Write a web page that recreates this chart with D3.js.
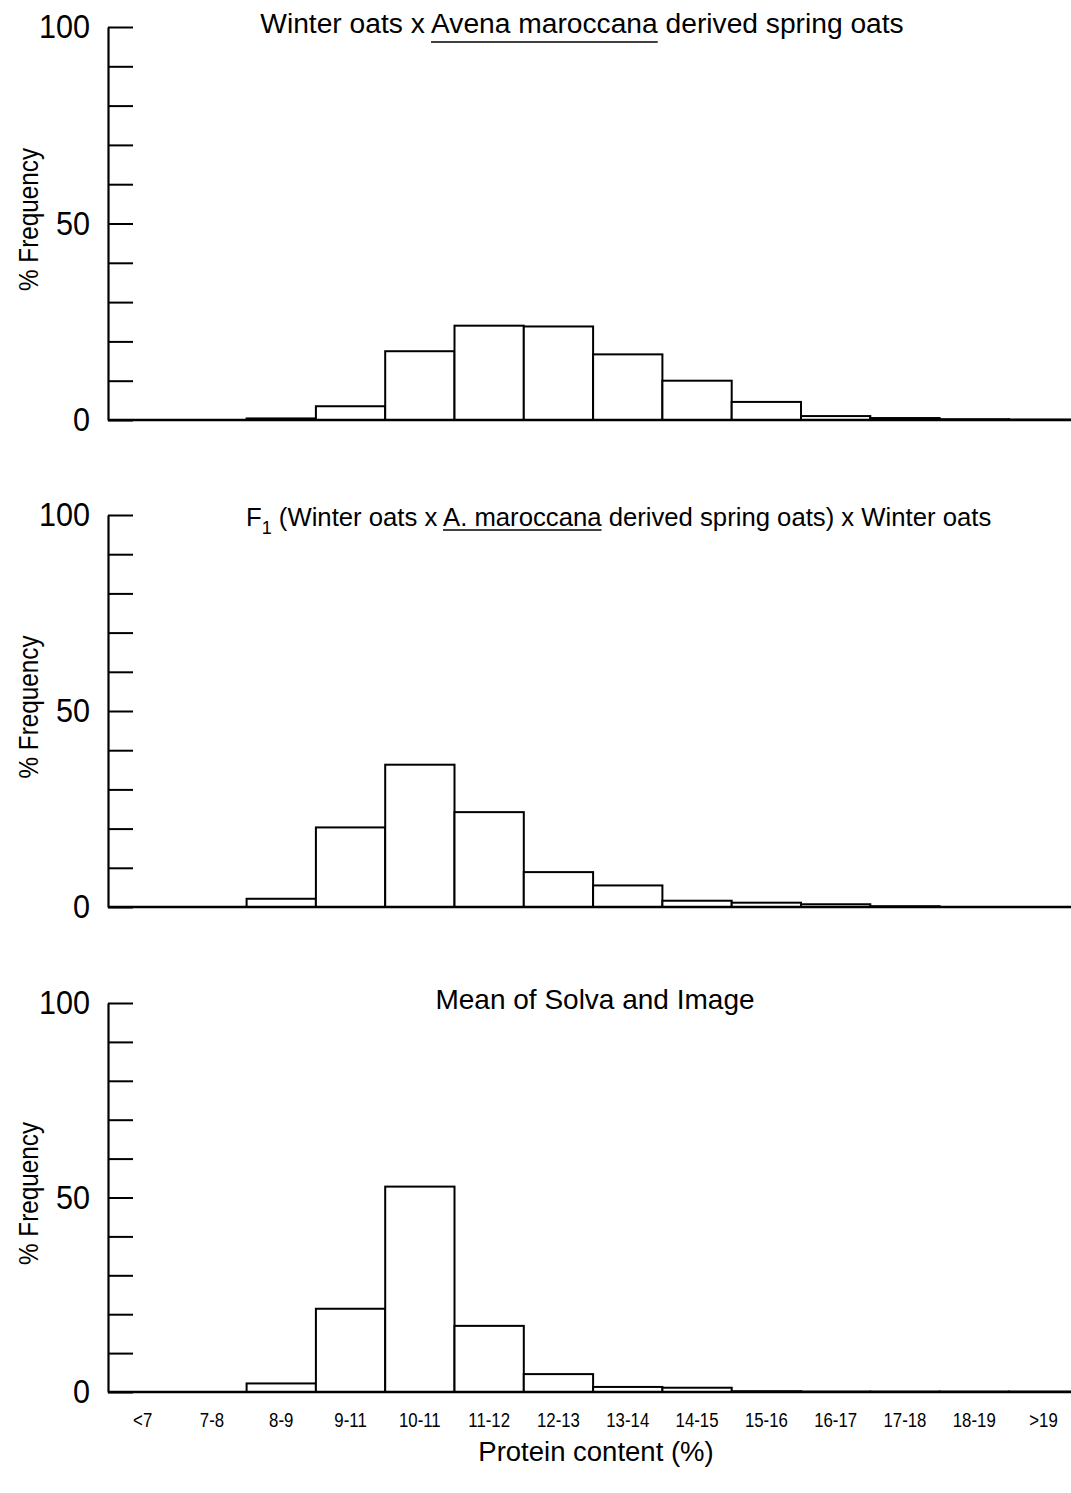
<!DOCTYPE html>
<html>
<head>
<meta charset="utf-8">
<script src="https://cdn.jsdelivr.net/npm/d3@7"></script>
<style>
  body { margin: 0; background: #fff; }
  svg { display: block; font-family: "Liberation Sans", Arial, Helvetica, sans-serif; }
</style>
</head>
<body>
<div id="chart"></div>
<script>
// protein content classes
const categories = ["<7", "7-8", "8-9", "9-11", "10-11", "11-12", "12-13", "13-14", "14-15", "15-16", "16-17", "17-18", "18-19", ">19"]

// % frequency per class
const winterXMaroccana = [0, 0, 0.4, 3.5, 17.5, 24, 23.8, 16.7, 10, 4.6, 1, 0.5, 0.2, 0.1]
const f1Backcross = [0, 0, 2.1, 20.3, 36.3, 24.2, 8.9, 5.5, 1.6, 1.1, 0.7, 0.2, 0, 0]
const solvaImageMean = [0, 0, 2.2, 21.4, 52.8, 17, 4.6, 1.3, 1.1, 0.2, 0.1, 0.1, 0.1, 0.1]

const yTicks = [0, 10, 20, 30, 40, 50, 60, 70, 80, 90, 100]
const yLabelled = [0, 50, 100]

function drawChart() {
    const width = 1071
    const height = 1493

    const svg = d3.select("#chart").append("svg")
        .attr("width", width)
        .attr("height", height)

    const xScale = d3.scaleBand()
        .domain(categories)
        .range([108, 108 + 14 * 69.3])
        .paddingInner(0)
        .paddingOuter(0)

    // one entry per panel: values, top and bottom of the y range
    const panels = [
        { values: winterXMaroccana, top: 27, bottom: 420, titleY: 33, titleSize: 28.2 },
        { values: f1Backcross, top: 515, bottom: 907, titleY: 526, titleSize: 25.7 },
        { values: solvaImageMean, top: 1003, bottom: 1392, titleY: 1009, titleSize: 28 }
    ]

    // condensed look of the original lettering
    const squeeze = 0.9

    panels.forEach((p, i) => {
        const yScale = d3.scaleLinear()
            .domain([0, 100])
            .range([p.bottom, p.top])

        const g = svg.append("g")

        // bars
        g.selectAll("rect")
            .data(p.values.map((v, j) => ({ cat: categories[j], v })))
            .join("rect")
            .filter(d => d.v > 0)
            .attr("x", d => xScale(d.cat))
            .attr("y", d => yScale(d.v))
            .attr("width", xScale.bandwidth())
            .attr("height", d => yScale(0) - yScale(d.v))
            .attr("fill", "#fff")
            .attr("stroke", "#000")
            .attr("stroke-width", 2)

        // baseline
        g.append("line")
            .attr("x1", xScale.range()[0])
            .attr("x2", width)
            .attr("y1", yScale(0))
            .attr("y2", yScale(0))
            .attr("stroke", "#000")
            .attr("stroke-width", 2.5)

        // y axis, ticks pointing into the plot
        const yAxis = d3.axisLeft(yScale)
            .tickValues(yTicks)
            .tickSizeInner(-25)
            .tickSizeOuter(0)
            .tickPadding(18)
            .tickFormat(d => yLabelled.includes(d) ? d : "")

        const ax = g.append("g")
            .attr("transform", `translate(${xScale.range()[0]},0)`)
            .call(yAxis)
        ax.select(".domain").attr("stroke-width", 2.2)
        ax.selectAll(".tick line").attr("stroke-width", 2)
        ax.selectAll(".tick text")
            .attr("font-size", 34)
            .attr("font-family", "Liberation Sans, Arial, sans-serif")
            .attr("fill", "#000")
            .attr("x", -18 / squeeze)
            .attr("transform", `scale(${squeeze},1)`)

        // y axis title
        g.append("text")
            .attr("transform", `translate(38, ${(p.top + p.bottom) / 2 - 4}) rotate(-90) scale(${squeeze},1)`)
            .attr("text-anchor", "middle")
            .attr("font-size", 27)
            .text("% Frequency")

        // panel title
        const title = g.append("text")
            .attr("y", p.titleY)
            .attr("font-size", p.titleSize)
        let underlined
        if (i === 0) {
            title.attr("x", 582).attr("text-anchor", "middle")
            title.append("tspan").text("Winter oats x ")
            underlined = title.append("tspan").text("Avena maroccana")
            title.append("tspan").text(" derived spring oats")
        } else if (i === 1) {
            title.attr("x", 246)
            title.append("tspan").text("F")
            title.append("tspan").attr("font-size", 18).attr("dy", 8).text("1")
            title.append("tspan").attr("dy", -8).text(" (Winter oats x ")
            underlined = title.append("tspan").text("A. maroccana")
            title.append("tspan").text(" derived spring oats) x Winter oats")
        } else {
            title.attr("x", 595).attr("text-anchor", "middle")
            title.append("tspan").text("Mean of Solva and Image")
        }
        if (underlined) {
            const node = title.node()
            const full = node.textContent
            const sub = underlined.text()
            const start = full.indexOf(sub)
            const x0 = node.getStartPositionOfChar(start).x
            const x1 = node.getEndPositionOfChar(start + sub.length - 1).x
            const uy = p.titleY + (i === 0 ? 9 : 4)
            g.append("line")
                .attr("x1", x0)
                .attr("x2", x1)
                .attr("y1", uy)
                .attr("y2", uy)
                .attr("stroke", "#000")
                .attr("stroke-width", 1.5)
        }
    })

    // x tick labels under the last panel
    const xAxis = d3.axisBottom(xScale)
        .tickSize(0)
        .tickPadding(20)
    const xa = svg.append("g")
        .attr("transform", `translate(0, ${panels[2].bottom})`)
        .call(xAxis)
    xa.select(".domain").remove()
    xa.selectAll(".tick text")
        .attr("font-size", 21)
        .attr("font-family", "Liberation Sans, Arial, sans-serif")
        .attr("fill", "#000")
        .attr("transform", "scale(0.8,1)")

    svg.append("text")
        .attr("x", 596)
        .attr("y", 1461)
        .attr("text-anchor", "middle")
        .attr("font-size", 27.5)
        .text("Protein content (%)")
}

drawChart()
</script>
</body>
</html>
